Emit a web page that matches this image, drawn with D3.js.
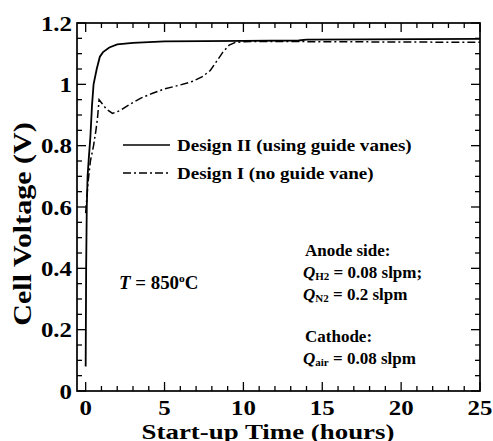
<!DOCTYPE html>
<html><head><meta charset="utf-8">
<script src="https://cdn.jsdelivr.net/npm/d3@7"></script>
<style>body{margin:0;background:#fff}svg{display:block}text{font-family:"Liberation Serif","Times New Roman",serif;font-weight:bold;fill:#000}</style>
</head><body><svg id="c" width="493" height="441"></svg>
<script>
// Design II (using guide vanes) — solid
const tII = [0, 0.03, 0.07, 0.12, 0.2, 0.3, 0.4, 0.5, 0.7, 0.9, 1.1, 1.5, 2, 3, 5, 10, 13.5, 14, 25];
const vII = [0.08, 0.4, 0.6, 0.7, 0.76, 0.83, 0.93, 1.0, 1.05, 1.09, 1.105, 1.12, 1.13, 1.135, 1.14, 1.142, 1.143, 1.146, 1.148];
// Design I (no guide vane) — dash-dot
const tI = [0, 0.15, 0.3, 0.5, 0.65, 0.75, 0.85, 1.0, 1.3, 1.7, 2.2, 2.8, 3.5, 4.2, 5, 6, 6.8, 7.4, 7.9, 8.3, 8.7, 9.1, 9.5, 10.5, 25];
const vI = [0.58, 0.68, 0.75, 0.8, 0.85, 0.89, 0.95, 0.94, 0.92, 0.905, 0.915, 0.935, 0.955, 0.97, 0.985, 0.998, 1.01, 1.025, 1.045, 1.075, 1.105, 1.128, 1.137, 1.14, 1.137];
const xTicks = [0, 5, 10, 15, 20, 25];
const yTicks = [0, 0.2, 0.4, 0.6, 0.8, 1.0, 1.2];
const yTickLabels = ["0", "0.2", "0.4", "0.6", "0.8", "1", "1.2"];
const seriesNames = ["Design II (using guide vanes)", "Design I (no guide vane)"];

const svg = d3.select("#c");
const L = 77, R = 480, T = 23, B = 391;
const x = d3.scaleLinear().domain([-0.55, 25]).range([L, R]);
const y = d3.scaleLinear().domain([0, 1.2]).range([B, T]);

// text helper: horizontally widened Times-like bold text
function txt(px, py, size, anchor, sx, rot) {
  const g = svg.append("g").attr("transform",
    `translate(${px},${py})` + (rot ? ` rotate(${rot})` : "") + ` scale(${sx},1)`);
  return g.append("text").attr("font-size", size).attr("text-anchor", anchor);
}

// frame
svg.append("rect").attr("x", L).attr("y", T).attr("width", R - L).attr("height", B - T)
  .attr("fill", "none").attr("stroke", "#000").attr("stroke-width", 1.7);

const xMinor = d3.range(0, 25.01, 1);
const yMinor = d3.range(0, 1.2001, 0.05);
const isMajX = v => Math.abs(v % 5) < 1e-6;
const isMajY = v => Math.abs(Math.round(v / 0.2) * 0.2 - v) < 1e-6;
const tg = svg.append("g").attr("stroke", "#000").attr("stroke-width", 1.3);
xMinor.forEach(v => {
  const len = isMajX(v) ? 9 : 5;
  tg.append("line").attr("x1", x(v)).attr("x2", x(v)).attr("y1", B).attr("y2", B - len);
  tg.append("line").attr("x1", x(v)).attr("x2", x(v)).attr("y1", T).attr("y2", T + len);
});
yMinor.forEach(v => {
  const len = isMajY(v) ? 9 : 5;
  tg.append("line").attr("y1", y(v)).attr("y2", y(v)).attr("x1", L).attr("x2", L + len);
  tg.append("line").attr("y1", y(v)).attr("y2", y(v)).attr("x1", R).attr("x2", R - len);
});

// tick labels
xTicks.forEach(d => txt(x(d), 415, 22, "middle", 1.13).text(d));
yTicks.forEach((d, i) => txt(72, y(d) + 7.5, 22, "end", 1.13).text(yTickLabels[i]));

// axis titles
txt(268, 439, 21, "middle", 1.28).text("Start-up Time (hours)");
txt(31, 224, 25, "middle", 1.2, -90).text("Cell Voltage (V)");

// lines
const line = d3.line().x(d => x(d[0])).y(d => y(d[1]));
svg.append("path").datum(tI.map((t, i) => [t, vI[i]])).attr("d", line)
  .attr("fill", "none").attr("stroke", "#000").attr("stroke-width", 1.5)
  .attr("stroke-dasharray", "8,3,2,3");
svg.append("path").datum(tII.map((t, i) => [t, vII[i]])).attr("d", line)
  .attr("fill", "none").attr("stroke", "#000").attr("stroke-width", 1.8);

// legend
svg.append("line").attr("x1", 123).attr("x2", 170).attr("y1", 145).attr("y2", 145)
  .attr("stroke", "#000").attr("stroke-width", 1.5);
svg.append("line").attr("x1", 123).attr("x2", 170).attr("y1", 173).attr("y2", 173)
  .attr("stroke", "#000").attr("stroke-width", 1.3).attr("stroke-dasharray", "8,3,2,3");
txt(177, 151, 17, "start", 1.12).text(seriesNames[0]);
txt(177, 179, 17, "start", 1.12).text(seriesNames[1]);

// annotations
const tt = txt(119, 289, 18, "start", 1.05);
tt.append("tspan").attr("font-style", "italic").text("T");
tt.append("tspan").text(" = 850");
tt.append("tspan").attr("font-size", 11).attr("dy", -7).text("o");
tt.append("tspan").attr("dy", 7).text("C");

txt(305, 256, 17, "start", 1).text("Anode side:");
function qline(yy, sub, rest) {
  const t = txt(303, yy, 17, "start", 1);
  t.append("tspan").attr("font-style", "italic").text("Q");
  t.append("tspan").attr("font-size", 11).attr("dy", 2).text(sub);
  t.append("tspan").attr("dy", -2).text(rest);
}
qline(278, "H2", " = 0.08 slpm;");
qline(300, "N2", " = 0.2 slpm");
txt(305, 342, 17, "start", 1).text("Cathode:");
qline(364, "air", " = 0.08 slpm");
</script></body></html>
